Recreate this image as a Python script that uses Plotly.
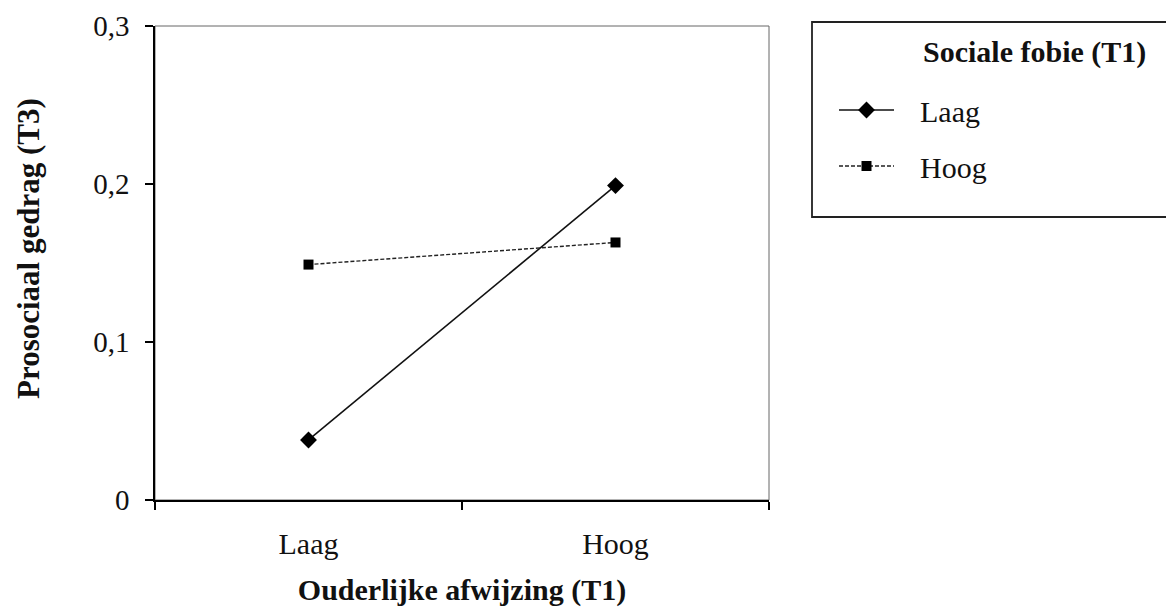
import plotly.graph_objects as go

categories = ["Laag", "Hoog"]
laag_values = [0.038, 0.199]
hoog_values = [0.149, 0.163]
series_names = ["Laag", "Hoog"]
legend_title = "Sociale fobie (T1)"
x_title = "Ouderlijke afwijzing (T1)"
y_title = "Prosociaal gedrag (T3)"

FONT = "Liberation Serif"
OFF = 8  # default page body margin
W, H = 1174 - OFF, 608 - OFF
PL, PR, PT, PB = 155, 769, 26, 500  # plot area in screen pixels
L, T = PL - OFF, PT - OFF
R, B = W - (PR - OFF), H - (PB - OFF)
pw, ph = PR - PL, PB - PT

def px_x(p):
    return (p - PL) / pw

def px_y(p):
    return (PB - p) / ph

fig = go.Figure()
fig.add_trace(go.Scatter(
    x=categories, y=laag_values, name="\u2002\u2009" + series_names[0], mode="lines+markers",
    line=dict(color="#111111", width=1.6),
    marker=dict(symbol="diamond", size=13, color="black"),
    legendgroup="a",
))
fig.add_trace(go.Scatter(
    x=categories, y=hoog_values, name="\u2002\u2009" + series_names[1], mode="lines+markers",
    line=dict(color="#222222", width=1.4, dash="4px,2px"),
    marker=dict(symbol="square", size=10, color="black"),
    legendgroup="b",
))

fig.update_layout(
    width=W, height=H,
    margin=dict(l=L, r=R, t=T, b=B, pad=0, autoexpand=False),
    paper_bgcolor="white", plot_bgcolor="white",
    separators=",.",
    font=dict(family=FONT, size=30, color="#111111"),
    showlegend=True,
    legend=dict(
        x=px_x(834), y=px_y(84), xanchor="left", yanchor="top",
        bgcolor="rgba(0,0,0,0)", borderwidth=0,
        font=dict(family=FONT, size=30, color="#111111"),
        tracegroupgap=14, itemwidth=55,
    ),
    xaxis=dict(
        type="category", range=[-0.5, 1.5], automargin=False,
        showline=True, linecolor="black", linewidth=1.5,
        ticks="outside", ticklen=8, tickcolor="black", tickwidth=1.5,
        tickson="boundaries", showgrid=False, zeroline=False,
        ticklabelstandoff=16,
        tickfont=dict(family=FONT, size=30),
        title=dict(text="<b>" + x_title + "</b>", standoff=20,
                   font=dict(family=FONT, size=30)),
        fixedrange=True,
    ),
    yaxis=dict(
        range=[0, 0.3], tickvals=[0, 0.1, 0.2, 0.3], automargin=False,
        showline=True, linecolor="black", linewidth=1.5,
        ticks="outside", ticklen=8, tickcolor="black", tickwidth=1.5,
        showgrid=False, zeroline=False,
        ticklabelstandoff=10,
        tickfont=dict(family=FONT, size=29),
        fixedrange=True,
    ),
)

# y-axis title
fig.add_annotation(xref="paper", yref="paper", x=px_x(28), y=px_y(249),
                   xanchor="center", yanchor="middle", showarrow=False, textangle=-90,
                   text="<b>" + y_title + "</b>",
                   font=dict(family=FONT, size=31, color="#111111"))
# plot frame (top/right borders)
fig.add_shape(type="rect", xref="paper", yref="paper", x0=0, x1=1, y0=0, y1=1,
              line=dict(color="#666666", width=1), layer="below")
# legend box
fig.add_shape(type="rect", xref="paper", yref="paper",
              x0=px_x(812), x1=px_x(1190), y0=px_y(217), y1=px_y(22),
              line=dict(color="#222222", width=1.8))
fig.add_annotation(xref="paper", yref="paper", x=px_x(921), y=px_y(52),
                   xanchor="left", yanchor="middle", showarrow=False,
                   text="<b>" + legend_title + "</b>",
                   font=dict(family=FONT, size=30, color="#111111"))

fig.write_html("out.html")
